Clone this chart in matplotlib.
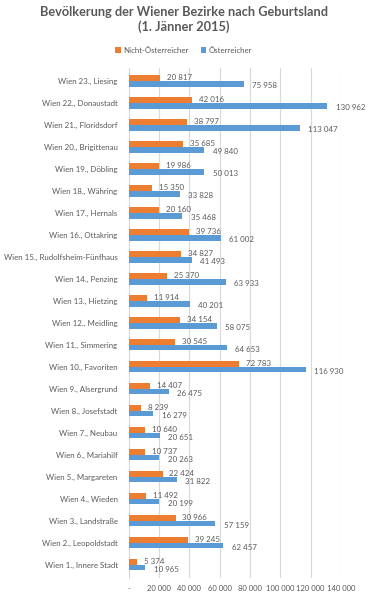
import numpy as np
import matplotlib
matplotlib.use("Agg")
import matplotlib.pyplot as plt
from matplotlib.ticker import FuncFormatter

bezirke = ['Wien 1., Innere Stadt', 'Wien 2., Leopoldstadt', 'Wien 3., Landstraße', 'Wien 4., Wieden',
           'Wien 5., Margareten', 'Wien 6., Mariahilf', 'Wien 7., Neubau', 'Wien 8., Josefstadt',
           'Wien 9., Alsergrund', 'Wien 10., Favoriten', 'Wien 11., Simmering', 'Wien 12., Meidling',
           'Wien 13., Hietzing', 'Wien 14., Penzing', 'Wien 15., Rudolfsheim-Fünfhaus', 'Wien 16., Ottakring',
           'Wien 17., Hernals', 'Wien 18., Währing', 'Wien 19., Döbling', 'Wien 20., Brigittenau',
           'Wien 21., Floridsdorf', 'Wien 22., Donaustadt', 'Wien 23., Liesing']

nicht_oesterreicher = [5374, 39245, 30966, 11492, 22424, 10737, 10640, 8239, 14407, 72783, 30545, 34154,
                       11914, 25370, 34827, 39736, 20160, 15350, 19986, 35685, 38797, 42016, 20817]
oesterreicher = [10965, 62457, 57159, 20199, 31822, 20263, 20651, 16279, 26475, 116930, 64653, 58075,
                 40201, 63933, 41493, 61002, 35468, 33828, 50013, 49840, 113047, 130962, 75958]

x_ticks = [0, 20000, 40000, 60000, 80000, 100000, 120000, 140000]

ORANGE = '#ED7D31'
BLUE = '#5B9BD5'
TEXT = '#595959'
FS = 5.7

plt.rcParams['font.family'] = ['Lato', 'DejaVu Sans']


def fmt(v):
    return '-' if v == 0 else f'{int(v):,}'.replace(',', ' ')


fig = plt.figure(figsize=(3.75, 6), dpi=100)
ax = fig.add_axes([0.343, 0.037, 0.566, 0.85])

y = np.arange(len(bezirke))
h = 0.26
ax.barh(y + h / 2, nicht_oesterreicher, height=h, color=ORANGE, label='Nicht-Österreicher', zorder=3)
ax.barh(y - h / 2, oesterreicher, height=h, color=BLUE, label='Österreicher', zorder=3)

for i in range(len(bezirke)):
    ax.text(nicht_oesterreicher[i] + 4500, y[i] + h / 2 + 0.02, fmt(nicht_oesterreicher[i]),
            fontsize=FS, color=TEXT, va='center', ha='left', clip_on=False)
    ax.text(oesterreicher[i] + 5500, y[i] - h / 2 - 0.08, fmt(oesterreicher[i]),
            fontsize=FS, color=TEXT, va='center', ha='left', clip_on=False)

ax.set_xlim(0, 140000)
ax.set_ylim(-0.6, len(bezirke) - 0.4)
ax.set_xticks(x_ticks)
ax.xaxis.set_major_formatter(FuncFormatter(lambda v, p: fmt(v)))
ax.set_yticks(y)
ax.set_yticklabels(bezirke)
ax.tick_params(axis='both', length=0, labelsize=FS, labelcolor=TEXT)
ax.tick_params(axis='x', labelsize=5.5, pad=5)
ax.tick_params(axis='y', pad=8)
ax.grid(axis='x', color='#D9D9D9', linewidth=0.8, zorder=0)
for s in ['top', 'right', 'bottom']:
    ax.spines[s].set_visible(False)
ax.spines['left'].set_color('#D9D9D9')
ax.spines['left'].set_linewidth(0.8)

fig.text(0.49, 0.99, 'Bevölkerung der Wiener Bezirke nach Geburtsland\n(1. Jänner 2015)',
         ha='center', va='top', fontsize=9.2, fontweight='bold', color=TEXT, linespacing=1.2)
fig.legend(loc='center', bbox_to_anchor=(0.49, 0.916), ncol=2, frameon=False, fontsize=FS,
           handlelength=0.7, handleheight=0.7, handletextpad=0.3, columnspacing=1.5,
           labelcolor=TEXT)

fig.savefig('out.png', dpi=100, facecolor='white')
